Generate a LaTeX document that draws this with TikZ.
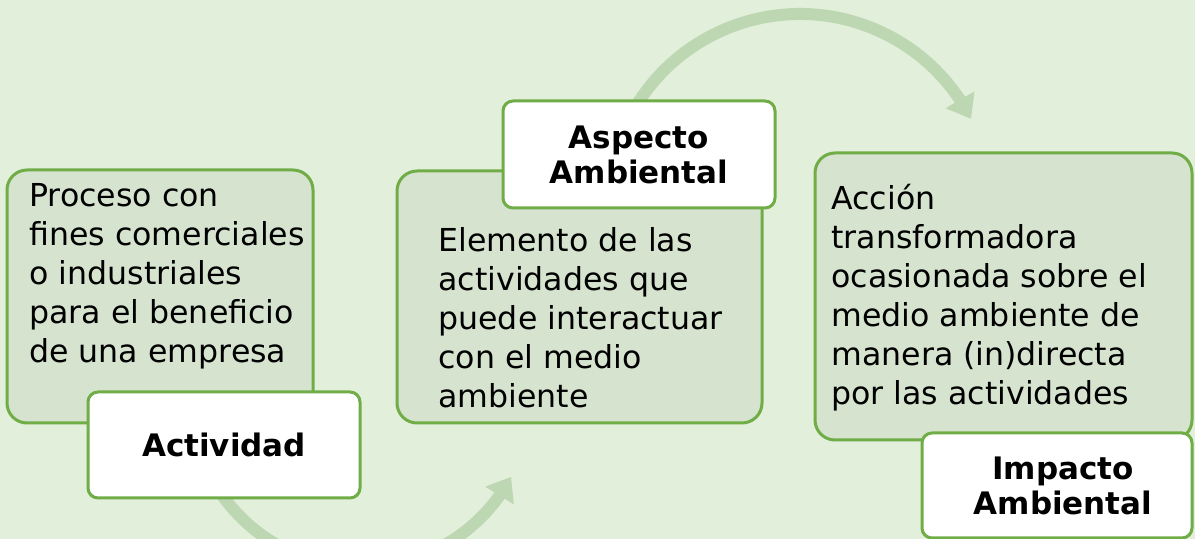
\documentclass[tikz,border=0pt]{standalone}
\usepackage{fontspec}
\setmainfont{DejaVu Sans}
\usetikzlibrary{arrows.meta,bending}

\definecolor{bggreen}{HTML}{E2EFDA}
\definecolor{boxgreen}{HTML}{D5E3CF}
\definecolor{edgegreen}{HTML}{70AD47}
\definecolor{arcgreen}{HTML}{BDD7B3}

\tikzset{
  panel/.style={draw=edgegreen, line width=1.5pt, fill=boxgreen, rounded corners=10pt},
  tag/.style={draw=edgegreen, line width=1.5pt, fill=white, rounded corners=5pt},
  body/.style={anchor=north west, inner sep=0pt, align=left, font=\fontsize{15.8}{19.5}\selectfont},
  title/.style={inner sep=0pt, align=center, font=\fontsize{15.5}{17.5}\selectfont\bfseries},
  flow/.style={draw=arcgreen, line width=6pt, -{Triangle[width=16pt,length=11pt]}}
}

\begin{document}
\begin{tikzpicture}[x=0.5pt, y=-0.5pt]
             \fill[bggreen] (0,0) rectangle (1195,539);
             \useasboundingbox (0,0) rectangle (1195,539);

             % arcs behind the boxes
             \coordinate (lowhub) at (361,397);
             \coordinate (highhub) at (800,206);
             \draw[flow] (lowhub) ++(150:170) arc (150:28:170);
             \draw[flow] (highhub) ++(205:192) arc (205:333:192);

             \node[panel, minimum width=153pt, minimum height=126.5pt] (actbox) at (160,296.5) {};
             \node[body] (acttext) at (29,183) {Proceso con\\fines comerciales\\o industriales\\para el beneficio\\de una empresa};
             \node[tag, minimum width=136pt, minimum height=53pt] (acttag) at (224,445) {};
             \node[title] at (acttag) {Actividad};

             \node[panel, minimum width=182.5pt, minimum height=126pt] (aspbox) at (579.5,297) {};
             \node[body] (asptext) at (438,227) {Elemento de las\\actividades que\\puede interactuar\\con el medio\\ambiente};
             \node[tag, minimum width=136pt, minimum height=53.5pt] (asptag) at (639,154.5) {};
             \node[title] at (asptag) {Aspecto\\Ambiental};

             \node[panel, minimum width=188.5pt, minimum height=143.5pt] (impbox) at (1003.5,296.5) {};
             \node[body] (imptext) at (831,184) {Acción\\transformadora\\ocasionada sobre el\\medio ambiente de\\manera (in)directa\\por las actividades};
             \node[tag, minimum width=135pt, minimum height=52.5pt] (imptag) at (1057,485.5) {};
             \node[title] at (1063,485.5) {Impacto\\Ambiental};
             \end{tikzpicture}
\end{document}
